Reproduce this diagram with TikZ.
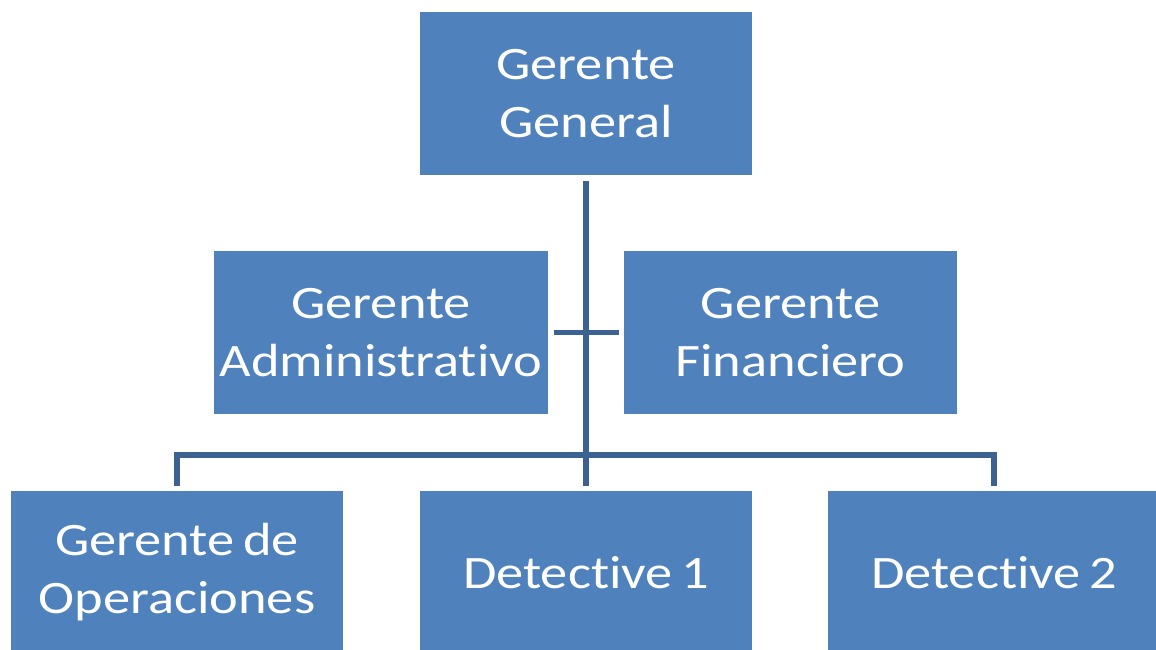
\documentclass[tikz,border=0pt]{standalone}
\usepackage{fontspec}
\setmainfont{Carlito}[FakeStretch=1.17, Ligatures=NoCommon, WordSpace=0.7]
\definecolor{boxblue}{HTML}{4F81BD}
\definecolor{lineblue}{HTML}{3C6291}
\begin{document}
\begin{tikzpicture}[x=1pt,y=-1pt,
  orgbox/.style={fill=boxblue, draw=none, text=white, align=center,
    minimum width=332pt, minimum height=163pt, inner sep=0pt, outer sep=5.5pt,
    font=\fontsize{46.5}{58}\selectfont},
  conn/.style={draw=lineblue, line width=5.5pt}]
\useasboundingbox (0,0) rectangle (1156,650);
\node[orgbox] (gg) at (586,93.5) {Gerente\\General};
\node[orgbox, minimum width=334pt] (adm) at (381,332.5) {Gerente\\Administrativo};
\node[orgbox, minimum width=333pt] (fin) at (790.5,332.5) {Gerente\\Financiero};
\node[orgbox] (ops) at (177,572.5) {Gerente de\\Operaciones};
\node[orgbox] (det1) at (586,572.5) {Detective 1};
\node[orgbox] (det2) at (994,572.5) {Detective 2};
\coordinate (bar) at (586,455);
\draw[conn] (gg.south) -- (det1.north);
\draw[conn] (adm.east) -- (fin.west);
\draw[conn] (ops.north) |- (bar) -| (det2.north);
\end{tikzpicture}
\end{document}
